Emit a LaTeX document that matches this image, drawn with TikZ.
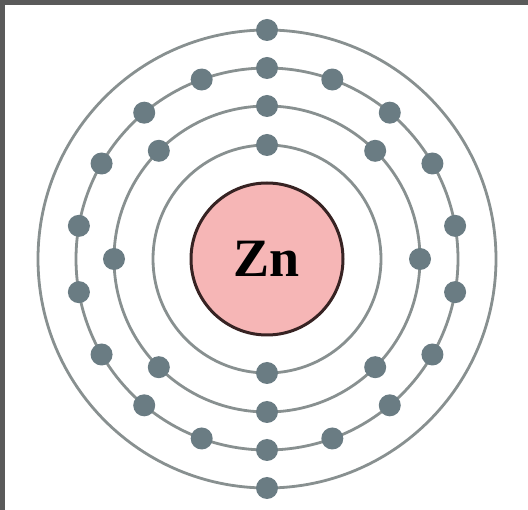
\documentclass[tikz,border=0pt]{standalone}
\usepackage{fontspec}
\setmainfont{Liberation Serif}
\definecolor{ringc}{RGB}{136,144,144}
\definecolor{elec}{RGB}{106,124,131}
\definecolor{nucfill}{RGB}{246,182,182}
\definecolor{nucdraw}{RGB}{55,35,35}
\definecolor{frame}{RGB}{90,90,90}
\tikzset{
  ring/.style={draw=ringc, line width=2.8pt},
  electron/.style={circle, fill=elec, inner sep=0pt, minimum size=22pt},
  nucleus/.style={circle, fill=nucfill, draw=nucdraw, line width=3pt, inner sep=0pt, minimum size=152pt, font=\fontsize{54}{54}\selectfont\bfseries}
}
\begin{document}
\begin{tikzpicture}[x=1pt,y=-1pt]
\useasboundingbox (0,0) rectangle (528,510);
\fill[white] (0,0) rectangle (528,510);
\fill[frame] (0,0) rectangle (528,5);
\fill[frame] (0,0) rectangle (5,510);
\coordinate (c) at (267,259);
\foreach \r in {114,153,191,229} \draw[ring] (c) circle[radius=\r];
\node[nucleus] (nuc) at (c) {Zn};
% shell 1
\foreach \a [count=\i] in {0,180}
  \node[electron] (s1e\i) at ({267+114*sin(\a)},{259-114*cos(\a)}) {};
% shell 2
\foreach \a [count=\i] in {0,45,...,315}
  \node[electron] (s2e\i) at ({267+153*sin(\a)},{259-153*cos(\a)}) {};
% shell 3
\foreach \a [count=\i] in {0,20,...,340}
  \node[electron] (s3e\i) at ({267+191*sin(\a)},{259-191*cos(\a)}) {};
% shell 4
\foreach \a [count=\i] in {0,180}
  \node[electron] (s4e\i) at ({267+229*sin(\a)},{259-229*cos(\a)}) {};
\end{tikzpicture}
\end{document}
